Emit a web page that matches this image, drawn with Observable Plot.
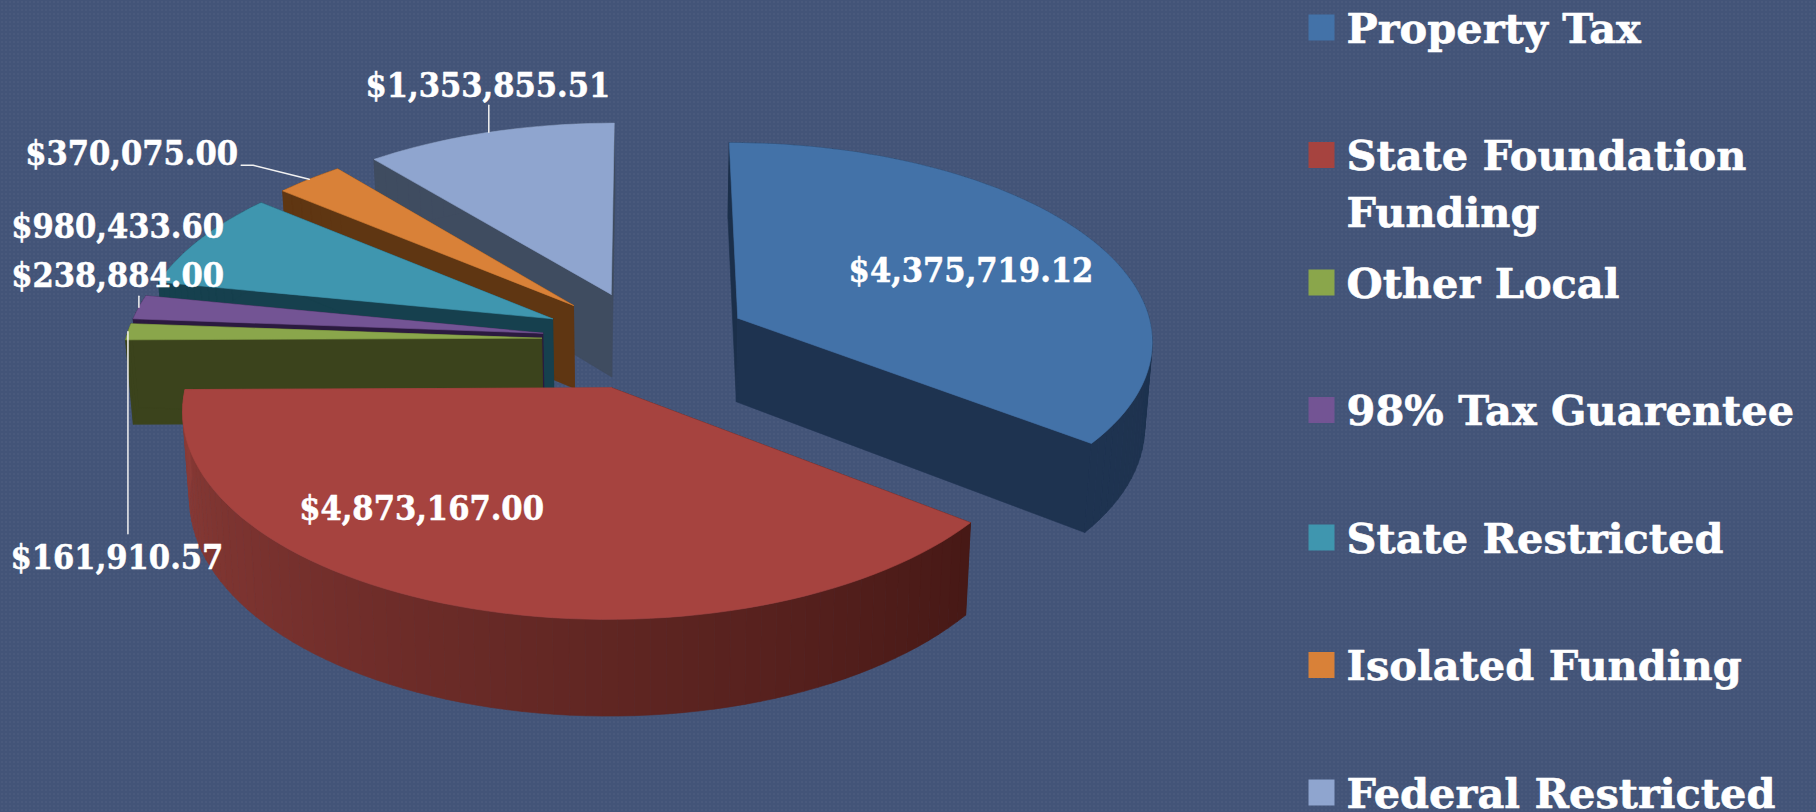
<!DOCTYPE html>
<html><head><meta charset="utf-8">
<script src="https://cdn.jsdelivr.net/npm/d3@7"></script>
<script src="https://cdn.jsdelivr.net/npm/@observablehq/plot@0.6"></script>
<style>
html,body{margin:0;padding:0;width:1816px;height:812px;overflow:hidden;background-color:#435478;
background-image:radial-gradient(rgba(255,255,255,.03) 1px,transparent 1.2px);background-size:4px 4px}
svg{display:block}
.value-label text{font-stretch:condensed}
</style></head><body>
<script>
// ---- data
const categories = ["Property Tax","State Foundation\nFunding","Other Local","98% Tax Guarentee","State Restricted","Isolated Funding","Federal Restricted"];
const amounts = [4375719.12,4873167.00,161910.57,238884.00,980433.60,370075.00,1353855.51];
// ---- colours
const topColors = ["#4372a8","#a6433f","#8aa64b","#735494","#3f96af","#d98138","#8fa5cf"];
const wallStart = ["#1b2f4a","#471916","#3b431c","#2b1a3f","#16404e","#5f3612","#3f4c60"];
const wallEnd   = ["#1e3350","#8d3c38","#3b431c","#2b1a3f","#16404e","#5f3612","#3f4c60"];
// ---- label anchors, in pie-plane units
const labelPlaneU = [0.811,-0.495,-1.142,-1.312,-1.347,-1.366,-0.436];
const labelPlaneV = [-0.3585,0.79,0.992,-0.3335,-0.6036,-1.0375,-1.48];
// ---- leader bends, px from the rim midpoint of the slice
const leaderBends = [[],[],[[0,202]],[[0,-11]],[],[[-56,-14],[-68,-14]],[[0,-27]]];
// ---- view of the tilted pie
const cx=645, cy=339.3, rx=416, ry=197.5, persp=0.102, depth=84.5, explode=0.25, converge=0.985;

const project=(u,v)=>{const w=1-persp*v;return {x:cx+rx*u/w,y:cy+ry*v/w,drop:depth/w};};
const fmt=d3.format(",.2f");
const arcs=d3.pie().sort(null).startAngle(0).endAngle(2*Math.PI)(amounts);
const dir=a=>[Math.sin(a),-Math.cos(a)];

const polys=[]; let pid=0;
const addPoly=(pts,color)=>{const id=pid++;[...pts,pts[0]].forEach(p=>polys.push({id,x:p[0],y:p[1],color}));};
const low=p=>[cx+(p.x-cx)*converge,p.y+p.drop];
const quad=(p,q)=>[[p.x,p.y],[q.x,q.y],low(q),low(p)];

const slices=arcs.map((s,i)=>{
  const mid=(s.startAngle+s.endAngle)/2, m=dir(mid);
  return {i,s,mid,au:explode*m[0],av:explode*m[1]};
});
const rimPt=(sl,a)=>{const d=dir(a);return project(sl.au+d[0],sl.av+d[1]);};

[...slices].sort((a,b)=>a.av-b.av).forEach(sl=>{
  const {i,s}=sl, apex=project(sl.au,sl.av);
  const n=Math.max(2,Math.ceil((s.endAngle-s.startAngle)/(Math.PI/90)));
  const angles=d3.range(n+1).map(k=>s.startAngle+(s.endAngle-s.startAngle)*k/n);
  const shade=d3.interpolateRgb(wallStart[i],wallEnd[i]);
  addPoly(quad(apex,rimPt(sl,s.startAngle)),wallStart[i]);
  addPoly(quad(apex,rimPt(sl,s.endAngle)),wallEnd[i]);
  for(let k=0;k<n;k++) addPoly(quad(rimPt(sl,angles[k]),rimPt(sl,angles[k+1])),shade(k/n));
  addPoly([[apex.x,apex.y],...angles.map(a=>{const p=rimPt(sl,a);return [p.x,p.y];})],topColors[i]);
});

const leaders=[];
slices.forEach(sl=>{
  if(!leaderBends[sl.i].length) return;
  const r=rimPt(sl,sl.mid);
  [[0,0],...leaderBends[sl.i]].forEach(o=>leaders.push({id:sl.i,x:r.x+o[0],y:r.y+o[1]}));
});
const valueLabels=amounts.map((v,i)=>{const p=project(labelPlaneU[i],labelPlaneV[i]);return {x:p.x,y:p.y,text:"$"+fmt(v)};});
const legend=categories.map((c,i)=>({text:c,color:topColors[i],row:i}));
const legendY=d=>27+d.row*127.5;

const chart=Plot.plot({
  width:1816,height:812,margin:0,
  style:{background:"transparent"},
  x:{domain:[0,1816],range:[0,1816],axis:null},
  y:{domain:[0,812],range:[0,812],axis:null},
  color:{type:"identity"},
  marks:[
    Plot.line(polys,{x:"x",y:"y",z:"id",fill:"color",stroke:"color",strokeWidth:0.6,curve:"linear"}),
    Plot.line(leaders,{x:"x",y:"y",z:"id",stroke:"#f2f2f2",strokeWidth:1.5,curve:"linear"}),
    Plot.text(valueLabels,{x:"x",y:"y",text:"text",fill:"white",stroke:"white",strokeWidth:0.5,fontSize:34,fontWeight:"bold",className:"value-label",
      fontFamily:"'DejaVu Serif Condensed','DejaVu Serif',serif",textAnchor:"middle",lineAnchor:"middle"}),
    Plot.dot(legend,{x:()=>1321,y:legendY,symbol:"square",r:14.67,fill:"color",stroke:null}),
    Plot.text(legend,{x:()=>1346,y:d=>legendY(d)-25,text:"text",fill:"white",stroke:"white",strokeWidth:0.6,fontSize:41.5,fontWeight:"bold",
      fontFamily:"'DejaVu Serif',serif",textAnchor:"start",lineAnchor:"top",lineHeight:1.36})
  ]
});
document.body.appendChild(chart);
</script>
</body></html>
